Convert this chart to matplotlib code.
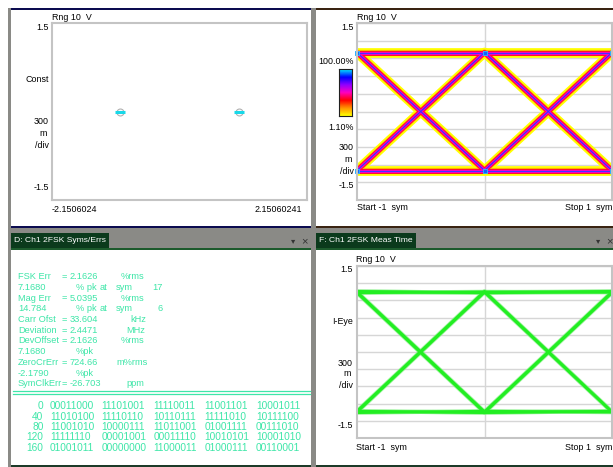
import numpy as np
import matplotlib.pyplot as plt
from matplotlib.patches import Rectangle
from matplotlib.colors import LinearSegmentedColormap

W, H = 613, 467

# constellation (I, Q) of the two FSK symbols
const_i = [-1.0, 1.0]
const_q = [0.0, 0.0]

# eye traces: level at symbol times -1, 0, 1
sym_t = [-1, 0, 1]
eye_traces = [[1.0, 1.0, 1.0], [-1.0, -1.0, -1.0],
              [1.0, -1.0, 1.0], [-1.0, 1.0, -1.0]]
i_eye_traces = [[1.05, 1.04, 1.06], [1.03, 1.05, 1.04], [1.06, 1.03, 1.05],
                [-1.04, -1.05, -1.04], [-1.06, -1.03, -1.05], [-1.03, -1.06, -1.03],
                [1.05, -1.04, 1.05], [1.03, -1.06, 1.03], [-1.05, 1.04, -1.05],
                [-1.03, 1.06, -1.04]]

# Syms/Errs table
meas_labels = ['FSK Err', '7.1680', 'Mag Err', '14.784', 'Carr Ofst', 'Deviation',
               'DevOffset', '7.1680', 'ZeroCrErr', '-2.1790', 'SymClkErr']
meas_values = ['2.1626', '', '5.0395', '', '33.604', '2.4471',
               '2.1626', '', '724.66', '', '-26.703']
meas_units = ['%rms', '% pk', '%rms', '% pk', 'kHz', 'MHz',
              '%rms', '%pk', 'm%rms', '%pk', 'ppm']
unit_x = [121, 76, 121, 76, 130, 126, 121, 76, 116, 76, 126]
peak_sym = {1: '17', 3: '6'}

bit_offsets = [0, 40, 80, 120, 160]
bit_rows = [
    ['00011000', '11101001', '11110011', '11001101', '10001011'],
    ['11010100', '11110110', '10110111', '11111010', '10111100'],
    ['11001010', '10000111', '11011001', '01001111', '00111010'],
    ['11111110', '00001001', '00011110', '10010101', '10001010'],
    ['01001011', '00000000', '11000011', '01000111', '00110001'],
]

FONT = ['Liberation Sans', 'DejaVu Sans']
FS = 6.4
MINT = '#3ee6a8'


def fig_rect(x0, y0, x1, y1):
    return [x0 / W, 1 - y1 / H, (x1 - x0) / W, (y1 - y0) / H]


fig = plt.figure(figsize=(W / 100, H / 100), dpi=100, facecolor='white')

# window chrome drawn in pixel coordinates
bg = fig.add_axes([0, 0, 1, 1])
bg.set_xlim(0, W)
bg.set_ylim(H, 0)
bg.axis('off')


def box(x0, y0, x1, y1, color):
    bg.add_patch(Rectangle((x0, y0), x1 - x0, y1 - y0, color=color, lw=0))


def txt(x, y, s, ha='left', color='black', size=FS, **kw):
    bg.text(x, y, s, ha=ha, va='center', color=color, fontsize=size,
            family=FONT, **kw)


box(8, 8, 613, 467, '#8a8a86')
box(11, 8, 311, 228, 'white')
box(11, 8, 311, 10, '#0c0c50')
box(11, 226, 311, 228, '#0c0c50')
box(316, 8, 613, 228, 'white')
box(316, 8, 613, 10, '#3a2412')
box(316, 226, 613, 228, '#3a2412')
box(11, 248, 311, 465, 'white')
box(316, 248, 613, 465, 'white')
box(11, 248, 311, 250, '#1c5a2c')
box(316, 248, 613, 250, '#1c5a2c')
box(11, 465, 311, 467, '#1c3a28')
box(316, 465, 613, 467, '#1c3a28')

# tabs
box(11, 233, 109, 248, '#0b3a1c')
txt(14, 241, 'D: Ch1 2FSK Syms/Errs', color='white', size=6.1)
txt(293, 242, '▾', color='#333333', size=6, ha='center')
txt(304, 241, '×', color='#333333', size=8, ha='center')
box(316, 233, 416, 248, '#0b3a1c')
txt(319, 241, 'F: Ch1 2FSK Meas Time', color='white', size=6.1)
txt(598, 242, '▾', color='#333333', size=6, ha='center')
txt(609, 241, '×', color='#333333', size=8, ha='center')

# axis annotations, top-left
txt(52, 17, 'Rng 10  V')
txt(49, 28, '1.5', ha='right')
txt(49, 80, 'Const', ha='right')
txt(49, 122, '300', ha='right')
txt(47, 134, 'm', ha='right')
txt(49, 145, '/div', ha='right')
txt(49, 187, '-1.5', ha='right')
txt(52, 209, '-2.1506024')
txt(302, 209, '2.15060241', ha='right')

# top-right
txt(357, 17, 'Rng 10  V')
txt(354, 28, '1.5', ha='right')
txt(354, 61, '100.00%', ha='right')
txt(354, 128, '1.10%', ha='right')
txt(354, 148, '300', ha='right')
txt(352, 160, 'm', ha='right')
txt(354, 171, '/div', ha='right')
txt(354, 185, '-1.5', ha='right')
txt(357, 208, 'Start -1  sym')
txt(612, 208, 'Stop 1  sym', ha='right')

# bottom-right
txt(356, 260, 'Rng 10  V')
txt(353, 270, '1.5', ha='right')
txt(353, 322, 'I-Eye', ha='right')
txt(353, 363, '300', ha='right')
txt(351, 374, 'm', ha='right')
txt(353, 385, '/div', ha='right')
txt(353, 425, '-1.5', ha='right')
txt(356, 448, 'Start -1  sym')
txt(612, 448, 'Stop 1  sym', ha='right')

# Syms/Errs text
TS = 6.7
row_y = 276.7
for k, lab in enumerate(meas_labels):
    y = row_y + k * 10.7
    txt(18, y, lab, color=MINT, size=TS)
    if meas_values[k]:
        txt(62, y, '=', color=MINT, size=TS)
        txt(70, y, meas_values[k], color=MINT, size=TS)
    txt(unit_x[k], y, meas_units[k], color=MINT, size=TS)
    if k in peak_sym:
        txt(100, y, 'at', color=MINT, size=TS)
        txt(116, y, 'sym', color=MINT, size=TS)
        txt(163, y, peak_sym[k], color=MINT, ha='right', size=TS)

bg.plot([13, 310], [390.7, 390.7], color=MINT, lw=0.9)
bg.plot([13, 310], [393.5, 393.5], color=MINT, lw=0.9)

group_x = [50, 101.7, 153.3, 204.3, 256]
for r, (off, groups) in enumerate(zip(bit_offsets, bit_rows)):
    y = 406 + r * 10.5
    txt(43.5, y, str(off), color=MINT, ha='right', size=7.3)
    for gx, g in zip(group_x, groups):
        txt(gx, y, g, color=MINT, size=7.3)


def frame(ax):
    ax.set_facecolor('white')
    ax.tick_params(length=0, labelbottom=False, labelleft=False)
    for s in ax.spines.values():
        s.set_color('#c4c4c4')
        s.set_linewidth(1.5)


# constellation
ax1 = fig.add_axes(fig_rect(52, 23, 307, 200))
frame(ax1)
ax1.set_xlim(-2.1506024, 2.15060241)
ax1.set_ylim(-1.5, 1.5)
ax1.set_xticks([])
ax1.set_yticks([])
ax1.plot(const_i, const_q, 'o', ms=5, mfc='none', mec='#b0b0b0', mew=0.8)
ax1.plot(const_i, const_q, '_', ms=7, mec='#18d8e8', mew=2.2)

# density eye
ax2 = fig.add_axes(fig_rect(357, 23, 612, 200))
frame(ax2)
ax2.set_xlim(-1, 1)
ax2.set_ylim(-1.5, 1.5)
ax2.set_xticks([0])
ax2.set_yticks(np.linspace(-1.5, 1.5, 11))
ax2.grid(color='#d6d6d6', lw=1)
layers = [('#ffff00', 7.0), ('#ffb000', 4.4), ('#ff1030', 3.6),
          ('#ff00c0', 2.2), ('#9010ff', 0.9), ('#2040ff', 0.5)]
for color, lw in layers:
    for tr in eye_traces:
        ax2.plot(sym_t, tr, color=color, lw=lw, solid_capstyle='butt')
for tr in eye_traces:
    ax2.plot(sym_t, tr, 's', ms=2.8, mfc='#1060ff', mec='#30c0ff', mew=0.5,
             clip_on=False)

# colour scale
cmap = LinearSegmentedColormap.from_list(
    'dens', ['#ffff00', '#ff9000', '#ff0000', '#ff00c0', '#9000ff',
             '#0000ff', '#00e8ff'])
cax = fig.add_axes(fig_rect(339, 69, 352, 116))
cax.imshow(np.linspace(1, 0, 64)[:, None], cmap=cmap, aspect='auto')
cax.set_xticks([])
cax.set_yticks([])
for s in cax.spines.values():
    s.set_color('#202020')
    s.set_linewidth(0.8)

# I-eye traces
ax3 = fig.add_axes(fig_rect(357, 266, 612, 438))
frame(ax3)
ax3.set_xlim(-1, 1)
ax3.set_ylim(-1.5, 1.5)
ax3.set_xticks([0])
ax3.set_yticks(np.linspace(-1.5, 1.5, 11))
ax3.grid(color='#d6d6d6', lw=1)
for tr in i_eye_traces:
    ax3.plot(sym_t, tr, color='#80f080', lw=3.0, alpha=0.7)
for tr in i_eye_traces:
    ax3.plot(sym_t, tr, color='#22ee22', lw=1.8)

fig.savefig('out.png', dpi=100, facecolor='white')
